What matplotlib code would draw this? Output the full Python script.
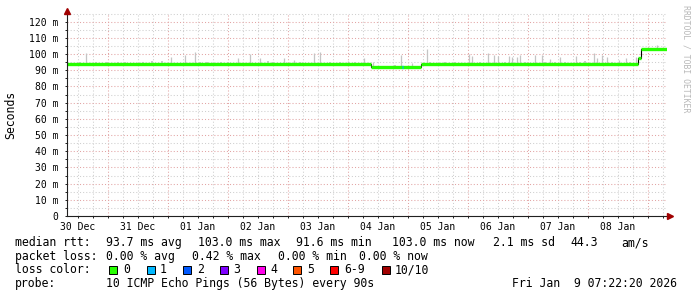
import matplotlib
matplotlib.use('Agg')
import matplotlib.pyplot as plt
import matplotlib.dates as mdates
from matplotlib.ticker import MultipleLocator, FuncFormatter, NullFormatter
from matplotlib.patches import Rectangle
import numpy as np
import pandas as pd

# ---------------- data ----------------
start = pd.Timestamp('2025-12-30 07:22:20')
end = pd.Timestamp('2026-01-09 07:22:20')

# median rtt as a step series (hours after start -> ms)
median_break_h = [0.0, 121.8, 141.8, 228.6, 229.8, 240.0]
median_ms = [93.8, 92.0, 93.8, 97.8, 103.0]

# smoke (spread of the pings): hour after start, top of the smoke in ms
smoke_h = [7.8, 41.8, 47.4, 51.4, 68.6, 73.4, 77.4, 87.0, 91.0, 99.0,
           101.4, 112.6, 119.0, 122.6, 133.8, 138.2, 144.2, 161.0, 162.2, 168.6,
           171.0, 172.6, 177.0, 178.2, 180.2, 181.4, 187.4, 190.2, 193.4, 197.4,
           203.8, 211.0, 212.2, 214.2, 216.2, 221.0, 223.8, 227.8, 236.2]
smoke_top_ms = [100.7, 98.2, 99.4, 101.3, 97.6, 100.1, 97.6, 97.6, 96.4, 100.7,
                101.3, 95.7, 97.6, 95.1, 99.4, 94.5, 103.1, 100.1, 98.8, 100.7,
                99.4, 98.8, 98.8, 98.2, 98.2, 99.4, 99.4, 99.4, 97.0, 98.2,
                98.8, 100.7, 97.6, 99.4, 98.2, 96.4, 97.6, 98.2, 105.6]
# low smoke bumps just above the median
bump_h = [5.4, 11.8, 16.2, 20.6, 23.4, 30.6, 34.2, 38.2, 53.4, 56.2,
          61.8, 64.6, 80.6, 82.6, 93.4, 105.4, 109.4, 115.4, 131.4, 145.4,
          151.4, 155.4, 165.4, 175.4, 183.4, 191.4, 195.4, 199.4, 205.4, 207.4,
          218.2, 225.4]
bump_top_ms = [95.2, 95.0, 95.4, 95.0, 95.3, 95.0, 95.6, 96.0, 95.2, 95.0,
               95.3, 95.0, 95.8, 95.2, 95.0, 95.3, 95.0, 95.4, 93.4, 95.2,
               95.0, 95.3, 95.1, 95.4, 95.0, 95.2, 95.0, 95.3, 95.0, 95.5,
               95.1, 95.4]

# packet loss events (hour after start, loss count index)
loss_h = [134.2]
loss_idx = [1]

loss_labels = ['0', '1', '2', '3', '4', '5', '6-9', '10/10']
loss_colors = ['#26ff00', '#00b8ff', '#0059ff', '#7e00ff', '#ff00ea',
               '#ff5500', '#ff0000', '#a10000']

day_dates = ['2025-12-30', '2025-12-31', '2026-01-01', '2026-01-02', '2026-01-03',
             '2026-01-04', '2026-01-05', '2026-01-06', '2026-01-07', '2026-01-08']
day_labels = ['30 Dec', '31 Dec', '01 Jan', '02 Jan', '03 Jan',
              '04 Jan', '05 Jan', '06 Jan', '07 Jan', '08 Jan']

rtt_items = ["median rtt:", "93.7 ms avg", "103.0 ms max", "91.6 ms min",
             "103.0 ms now", "2.1 ms sd", "44.3", "am/s"]
loss_items = ["packet loss:", "0.00 % avg", "0.42 % max", "0.00 % min", "0.00 % now"]
probe_items = ["probe:", "10 ICMP Echo Pings (56 Bytes) every 90s"]
date_stamp = "Fri Jan  9 07:22:20 2026"

# ---------------- figure ----------------
W, H = 697, 297
fig = plt.figure(figsize=(W / 100, H / 100), dpi=100)
fig.patch.set_facecolor('white')


def fx(x):
    return x / W


def fy(y):
    return 1 - y / H


ax_l, ax_r, ax_b, ax_t = 66.5, 666.5, 216, 13
ax = fig.add_axes([fx(ax_l), fy(ax_b), (ax_r - ax_l) / W, (ax_b - ax_t) / H])
ax.set_facecolor('white')

t0 = mdates.date2num(start.to_pydatetime())
t1 = mdates.date2num(end.to_pydatetime())


def tn(h):
    return t0 + np.asarray(h, dtype=float) / 24.0


ax.set_xlim(t0, t1)
ax.set_ylim(0, 125.4)

MONO = 'DejaVu Sans Mono'
GRID_MINOR = '#cfcfcf'
GRID_MAJOR = '#e2a4a4'

# grids
ax.xaxis.set_major_locator(mdates.DayLocator())
ax.xaxis.set_minor_locator(mdates.HourLocator(byhour=[6, 12, 18]))
ax.xaxis.set_major_formatter(NullFormatter())
ax.yaxis.set_major_locator(MultipleLocator(10))
ax.yaxis.set_minor_locator(MultipleLocator(5))
ax.yaxis.set_major_formatter(FuncFormatter(lambda v, p: '0' if v == 0 else f'{v:.0f} m'))
ax.grid(which='major', color=GRID_MAJOR, linestyle=(0, (1, 2)), linewidth=0.75)
ax.grid(which='minor', color=GRID_MINOR, linestyle=(0, (1, 2)), linewidth=0.75)
ax.set_axisbelow(True)
ax.tick_params(which='both', direction='out', length=1.5, width=0.7, color='#202020')
ax.tick_params(axis='y', which='major', pad=4.2, labelsize=7)
for lab in ax.get_yticklabels():
    lab.set_fontfamily(MONO)
for s in ax.spines.values():
    s.set_visible(False)

# median at a given hour
brk = np.array(median_break_h)
med = np.array(median_ms)


def median_at(h):
    idx = np.clip(np.searchsorted(brk, np.asarray(h), side='right') - 1, 0, len(med) - 1)
    return med[idx]


# smoke
ax.vlines(tn(bump_h), median_at(bump_h), bump_top_ms, color='#cacaca', lw=1.4, zorder=2)
ax.vlines(tn(smoke_h), median_at(smoke_h), smoke_top_ms, color='#c4c4c4', lw=0.9, zorder=2)

# median: thin black step + thick green loss-coloured segments
step_x = tn(median_break_h)
ax.stairs(median_ms, step_x, color='#000000', lw=0.8, baseline=None, zorder=3)
ax.hlines(median_ms, step_x[:-1], step_x[1:], color=loss_colors[0], lw=2.4, zorder=4)
for h, li in zip(loss_h, loss_idx):
    ax.hlines(median_at(h), tn(h), tn(h + 0.5), color=loss_colors[li], lw=2.4, zorder=5)

# x labels (centred at noon)
for d, lab in zip(day_dates, day_labels):
    xn = mdates.date2num(pd.Timestamp(d).to_pydatetime()) + 0.5
    ax.annotate(lab, xy=(xn, 0), xycoords=('data', 'axes fraction'),
                xytext=(0, -5.5), textcoords='offset pixels', ha='center', va='top',
                fontsize=7, fontfamily=MONO)

# axis lines with arrows
ax.plot([0, 0], [0, 1.0], transform=ax.transAxes, color='#202020', lw=0.8, clip_on=False, zorder=6)
ax.plot([0, 1.006], [0, 0], transform=ax.transAxes, color='#202020', lw=0.8, clip_on=False, zorder=6)
ax.plot([0], [(ax_b - 11) / (ax_b - ax_t)], marker='^', ms=4, color='#a00000',
        transform=ax.transAxes, clip_on=False, zorder=7)
ax.plot([(670 - ax_l) / (ax_r - ax_l)], [0], marker='>', ms=4, color='#a00000',
        transform=ax.transAxes, clip_on=False, zorder=7)

# axis title and watermark
fig.text(fx(11), fy(115), 'Seconds', rotation=90, ha='center', va='center',
         fontsize=8.3, fontfamily=MONO)
fig.text(fx(686), fy(59), 'RRDTOOL / TOBI OETIKER', rotation=270, ha='center', va='center',
         fontsize=5.9, fontfamily=MONO, color='#b8b8b8')

# legend text (each legend item placed at its own column, as rrdtool does)
baselines = [246, 259.7, 273.3, 287]
LFS = 8.3
rtt_x = [15.3, 106.5, 198.5, 295.9, 391.8, 493.2, 570.9, 620.9]
loss_x = [15.3, 106.5, 192.5, 278.5, 359.2]
probe_x = [15.3, 105.7]
for items, xs, yb in ((rtt_items, rtt_x, baselines[0]),
                      (loss_items, loss_x, baselines[1]),
                      (probe_items, probe_x, baselines[3])):
    for txt, x in zip(items, xs):
        fig.text(fx(x), fy(yb), txt, ha='left', va='baseline', fontsize=LFS, fontfamily=MONO)
fig.text(fx(15.3), fy(baselines[2]), "loss color:", ha='left', va='baseline',
         fontsize=LFS, fontfamily=MONO)
fig.text(fx(512.2), fy(baselines[3]), date_stamp, ha='left', va='baseline',
         fontsize=LFS, fontfamily=MONO)

# loss colour swatches
sw_x = [109, 146.7, 183.3, 220, 257, 293.3, 330, 381.7]
lab_x = [123.2, 159.6, 197.2, 233.5, 270.2, 307.2, 344.2, 395.1]
for sx, lx, lab, col in zip(sw_x, lab_x, loss_labels, loss_colors):
    fig.patches.append(Rectangle((fx(sx), fy(273.5)), 8 / W, 8 / H, transform=fig.transFigure,
                                 facecolor=col, edgecolor='#000000', lw=0.7))
    fig.text(fx(lx), fy(baselines[2]), lab, ha='left', va='baseline', fontsize=LFS, fontfamily=MONO)

fig.savefig('out.png', dpi=100, facecolor='white')
